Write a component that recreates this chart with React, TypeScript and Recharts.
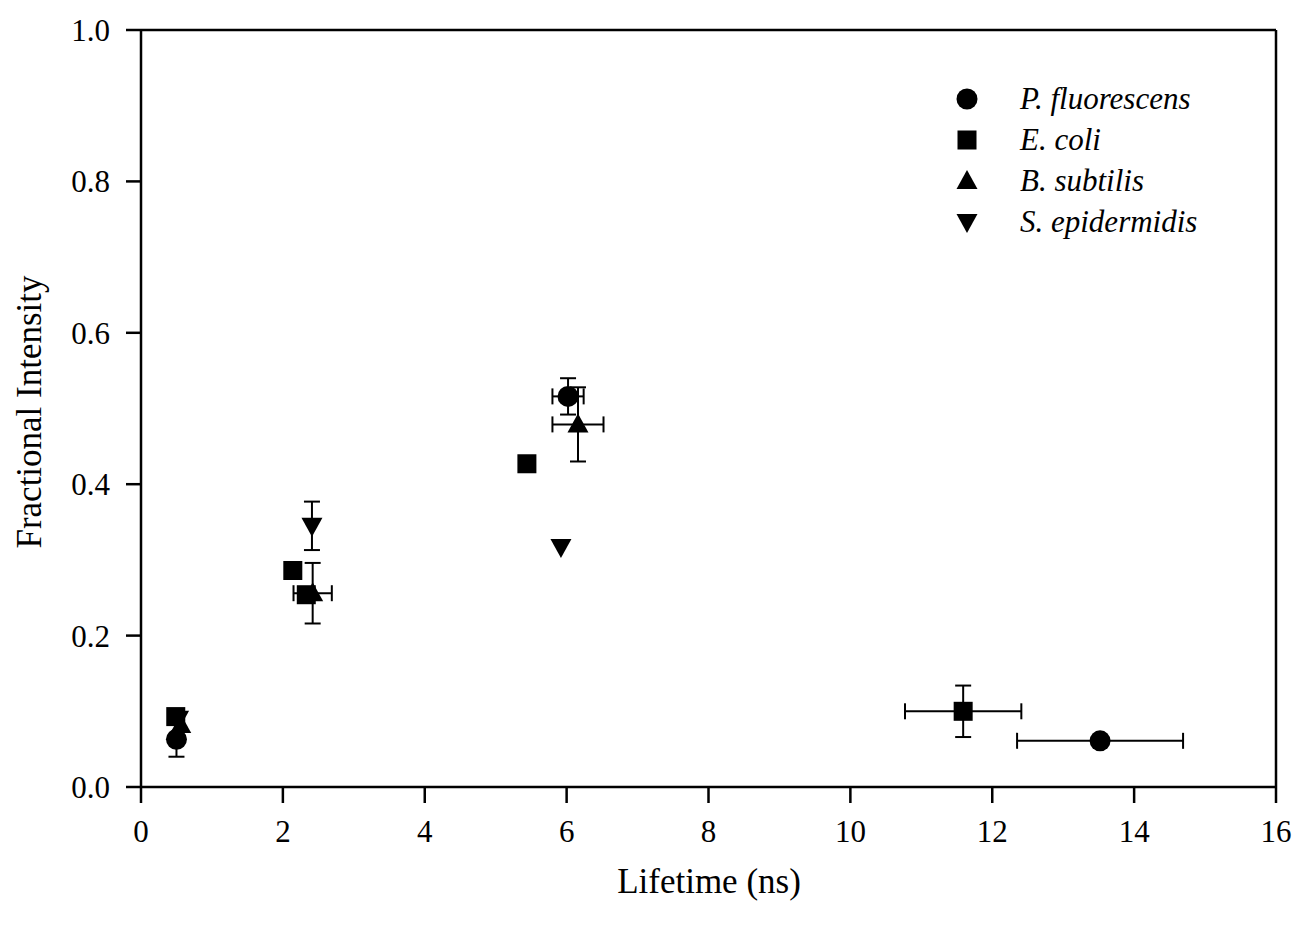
import { ErrorBar, Label, Legend, ReferenceLine, Scatter, ScatterChart, XAxis, YAxis } from "recharts";

type Point = { t: number; f: number; tErr?: number; fErr?: number };
type Kind = "circle" | "square" | "up" | "down";

const FONT = "'Liberation Serif', 'Times New Roman', serif";
const INK = "#000";

const X_TICKS = [0, 2, 4, 6, 8, 10, 12, 14, 16];
const Y_TICKS = [0, 0.2, 0.4, 0.6, 0.8, 1.0];

// lifetime t (ns), fractional intensity f, with optional symmetric errors
const FLUORESCENS: Point[] = [
  { t: 0.5, f: 0.063, fErr: 0.023 },
  { t: 6.02, f: 0.516, tErr: 0.22, fErr: 0.024 },
  { t: 13.52, f: 0.061, tErr: 1.17 },
];
const ECOLI: Point[] = [
  { t: 0.49, f: 0.093 },
  { t: 2.14, f: 0.286 },
  { t: 2.33, f: 0.254 },
  { t: 5.44, f: 0.427 },
  { t: 11.59, f: 0.1, tErr: 0.82, fErr: 0.034 },
];
const SUBTILIS: Point[] = [
  { t: 0.56, f: 0.082 },
  { t: 2.42, f: 0.256, tErr: 0.27, fErr: 0.04 },
  { t: 6.16, f: 0.479, tErr: 0.36, fErr: 0.049 },
];
const EPIDERMIDIS: Point[] = [
  { t: 0.53, f: 0.09 },
  { t: 2.41, f: 0.345, fErr: 0.032 },
  { t: 5.92, f: 0.317 },
];

const SERIES: { name: string; data: Point[]; kind: Kind }[] = [
  { name: "P. fluorescens", data: FLUORESCENS, kind: "circle" },
  { name: "E. coli", data: ECOLI, kind: "square" },
  { name: "B. subtilis", data: SUBTILIS, kind: "up" },
  { name: "S. epidermidis", data: EPIDERMIDIS, kind: "down" },
];

function Marker({ cx, cy, kind }: { cx: number; cy: number; kind: Kind }) {
  if (kind === "circle") return <circle cx={cx} cy={cy} r={10.5} fill={INK} />;
  if (kind === "square") return <rect x={cx - 9.5} y={cy - 9.5} width={19} height={19} fill={INK} />;
  if (kind === "up")
    return <polygon points={`${cx},${cy - 11} ${cx + 10.5},${cy + 8} ${cx - 10.5},${cy + 8}`} fill={INK} />;
  return <polygon points={`${cx},${cy + 11} ${cx + 10.5},${cy - 8} ${cx - 10.5},${cy - 8}`} fill={INK} />;
}

// legend keeps the series order (the default payload is sorted by name)
function LegendBox() {
  return (
    <div style={{ fontFamily: FONT }}>
      {SERIES.map((s) => (
        <div key={s.name} style={{ display: "flex", alignItems: "center", height: 41 }}>
          <svg width={24} height={24}>
            <Marker cx={12} cy={12} kind={s.kind} />
          </svg>
          <span style={{ marginLeft: 41, fontSize: 31, fontStyle: "italic", color: INK, lineHeight: "41px" }}>
            {s.name}
          </span>
        </div>
      ))}
    </div>
  );
}

const tickStyle = { fontSize: 31, fill: INK, fontFamily: FONT };
const lineStyle = { stroke: INK, strokeWidth: 2.5 };

export default function App() {
  return (
    <div style={{ position: "absolute", left: 0, top: 0, background: "#fff" }}>
      <ScatterChart width={1296} height={927} margin={{ top: 30, right: 20, bottom: 0, left: 0 }}>
        <XAxis
          type="number"
          dataKey="t"
          domain={[0, 16]}
          ticks={X_TICKS}
          interval={0}
          height={140}
          tickSize={16}
          tickMargin={17}
          tick={tickStyle}
          axisLine={lineStyle}
          tickLine={lineStyle}
        >
          <Label
            content={() => (
              <text x={709} y={893} textAnchor="middle" fontSize={35} fontFamily={FONT} fill={INK}>
                Lifetime (ns)
              </text>
            )}
          />
        </XAxis>
        <YAxis
          type="number"
          dataKey="f"
          domain={[0, 1]}
          ticks={Y_TICKS}
          interval={0}
          width={141}
          tickSize={15}
          tickMargin={16}
          tick={tickStyle}
          tickFormatter={(v: number) => v.toFixed(1)}
          axisLine={lineStyle}
          tickLine={lineStyle}
        >
          <Label
            content={() => (
              <text
                x={41}
                y={412}
                transform="rotate(-90 41 412)"
                textAnchor="middle"
                fontSize={35}
                fontFamily={FONT}
                fill={INK}
              >
                Fractional Intensity
              </text>
            )}
          />
        </YAxis>
        <ReferenceLine y={1} stroke={INK} strokeWidth={2.5} />
        <ReferenceLine x={16} stroke={INK} strokeWidth={2.5} />
        <Legend
          layout="horizontal"
          verticalAlign="middle"
          align="center"
          content={<LegendBox />}
          wrapperStyle={{ top: 78, left: 955, width: 320 }}
        />
        {SERIES.map((s) => (
          <Scatter
            key={s.name}
            name={s.name}
            data={s.data}
            fill={INK}
            isAnimationActive={false}
            shape={(p: any) => <Marker cx={p.cx} cy={p.cy} kind={s.kind} />}
          >
            <ErrorBar dataKey="tErr" direction="x" width={8} stroke={INK} strokeWidth={2} />
            <ErrorBar dataKey="fErr" direction="y" width={8} stroke={INK} strokeWidth={2} />
          </Scatter>
        ))}
      </ScatterChart>
    </div>
  );
}
